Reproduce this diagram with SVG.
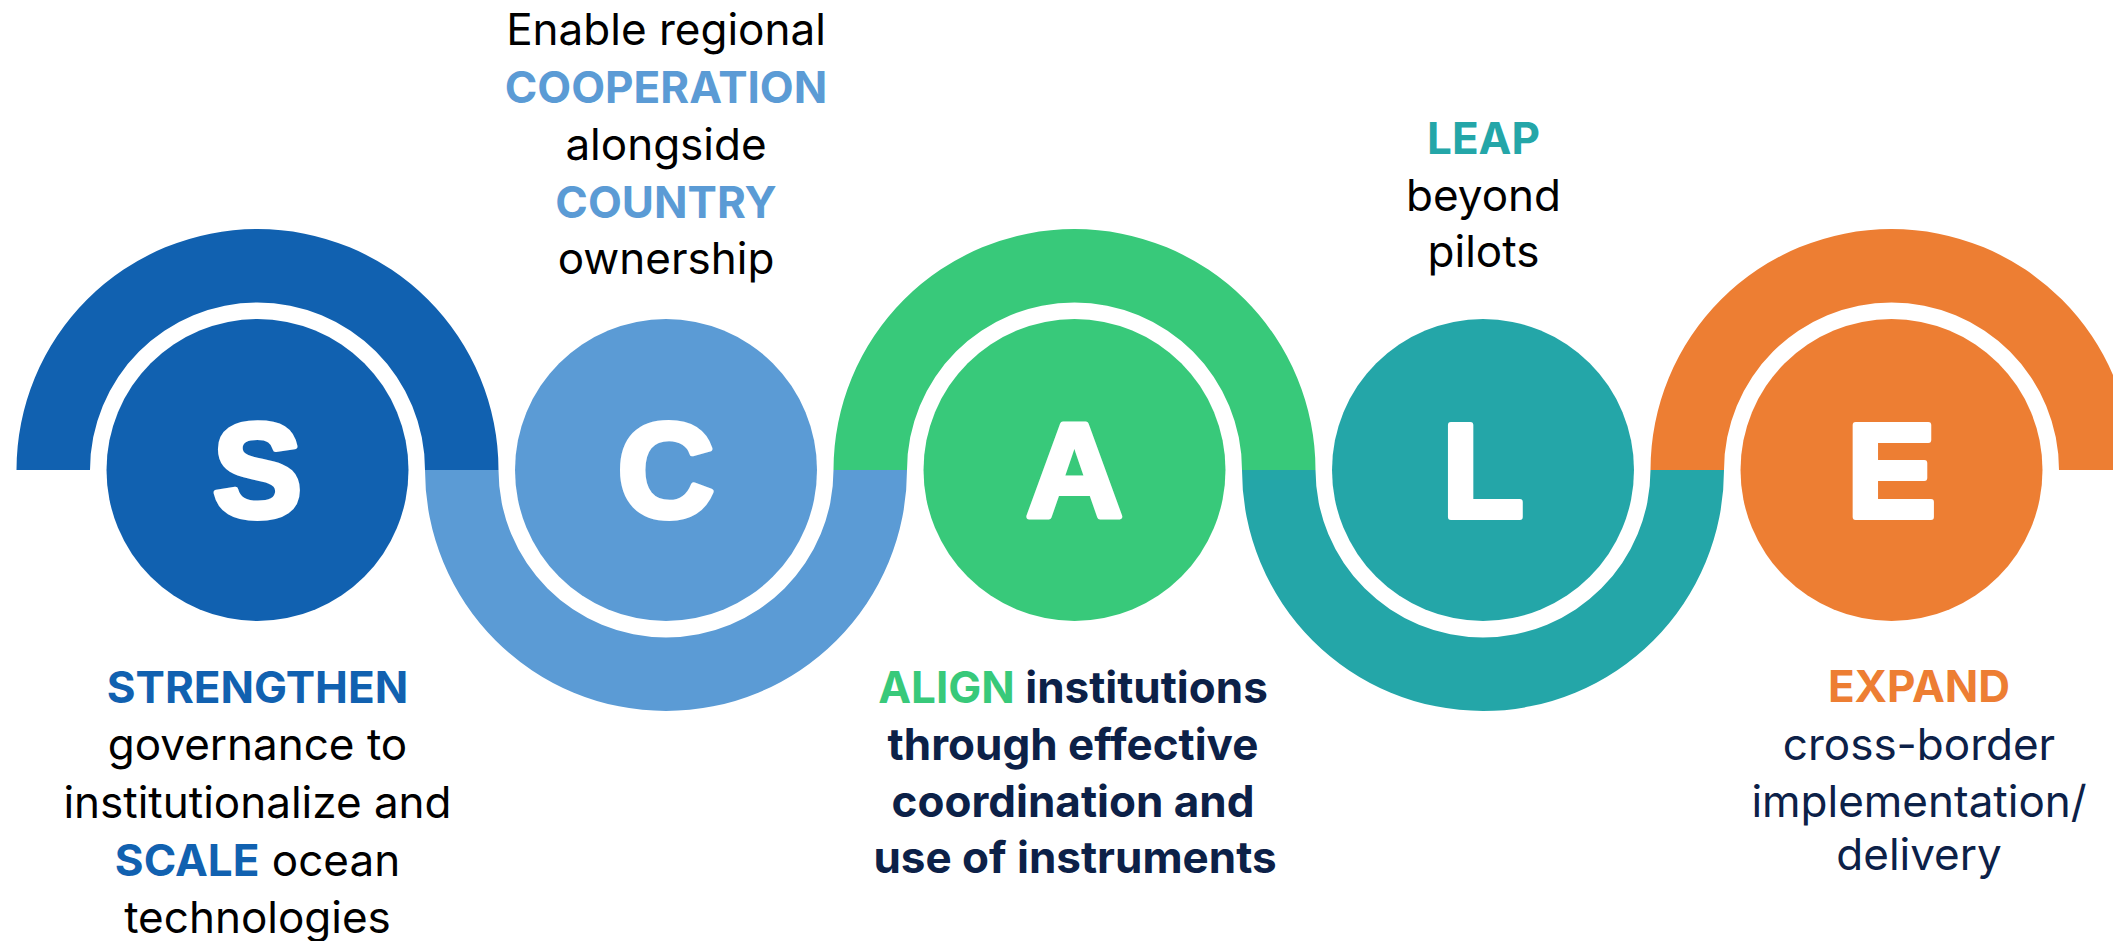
<svg xmlns="http://www.w3.org/2000/svg" width="2113" height="941" viewBox="0 0 2113 941">
<style>
.t{font-family:Inter,"Open Sans","Liberation Sans",sans-serif;font-size:44px;text-anchor:middle}
.b{font-weight:700}
.blk{fill:#000}
.navy{fill:#0c2148}
.letter{font-family:"Liberation Sans",Arial,sans-serif;font-weight:700;font-size:134px;fill:#fff;stroke:#fff;stroke-width:6;stroke-linejoin:round;text-anchor:middle}
.cS{fill:#1161b0}.cC{fill:#5b9bd5}.cA{fill:#38c97a}.cL{fill:#24a6a8}.cE{fill:#ed7e33}
</style>
<rect width="2113" height="941" fill="#fff"/>
<g id="ribbon">
<path class="cS" d="M16.5,470 A241,241 0 0 1 498.5,470 L425,470 A167.5,167.5 0 0 0 90,470 Z"/>
<path class="cC" d="M425,470 A241,241 0 0 0 907,470 L833.5,470 A167.5,167.5 0 0 1 498.5,470 Z"/>
<path class="cA" d="M833.5,470 A241,241 0 0 1 1315.5,470 L1242,470 A167.5,167.5 0 0 0 907,470 Z"/>
<path class="cL" d="M1242,470 A241,241 0 0 0 1724,470 L1650.5,470 A167.5,167.5 0 0 1 1315.5,470 Z"/>
<path class="cE" d="M1650.5,470 A241,241 0 0 1 2132.5,470 L2059,470 A167.5,167.5 0 0 0 1724,470 Z"/>
</g>
<g id="node-S">
<circle class="cS" cx="257.5" cy="470" r="151"/>
<text class="letter" x="257.5" y="517">S</text>
<text class="t b cS" x="257.5" y="703">STRENGTHEN</text>
<text class="t blk" x="257.5" y="760">governance to</text>
<text class="t blk" x="257.5" y="818">institutionalize and</text>
<text class="t blk" x="257.5" y="876"><tspan class="b cS">SCALE</tspan> ocean</text>
<text class="t blk" x="257.5" y="933">technologies</text>
</g>
<g id="node-C">
<circle class="cC" cx="666" cy="470" r="151"/>
<text class="letter" x="666" y="517">C</text>
<text class="t blk" x="666" y="45">Enable regional</text>
<text class="t b cC" x="666" y="103">COOPERATION</text>
<text class="t blk" x="666" y="160">alongside</text>
<text class="t b cC" x="666" y="218">COUNTRY</text>
<text class="t blk" x="666" y="274">ownership</text>
</g>
<g id="node-A">
<circle class="cA" cx="1074.5" cy="470" r="151"/>
<text class="letter" x="1074.5" y="517">A</text>
<text class="t b navy" x="1073" y="703"><tspan class="cA">ALIGN</tspan> institutions</text>
<text class="t b navy" x="1073" y="760">through effective</text>
<text class="t b navy" x="1073" y="817">coordination and</text>
<text class="t b navy" x="1075" y="873">use of instruments</text>
</g>
<g id="node-L">
<circle class="cL" cx="1483" cy="470" r="151"/>
<text class="letter" x="1483" y="517">L</text>
<text class="t b cL" x="1483.5" y="154">LEAP</text>
<text class="t blk" x="1483.5" y="211">beyond</text>
<text class="t blk" x="1483.5" y="267">pilots</text>
</g>
<g id="node-E">
<circle class="cE" cx="1891.5" cy="470" r="151"/>
<text class="letter" x="1891.5" y="517">E</text>
<text class="t b cE" x="1919" y="702">EXPAND</text>
<text class="t navy" x="1919" y="760">cross-border</text>
<text class="t navy" x="1919" y="817">implementation/</text>
<text class="t navy" x="1919" y="870">delivery</text>
</g>
</svg>
